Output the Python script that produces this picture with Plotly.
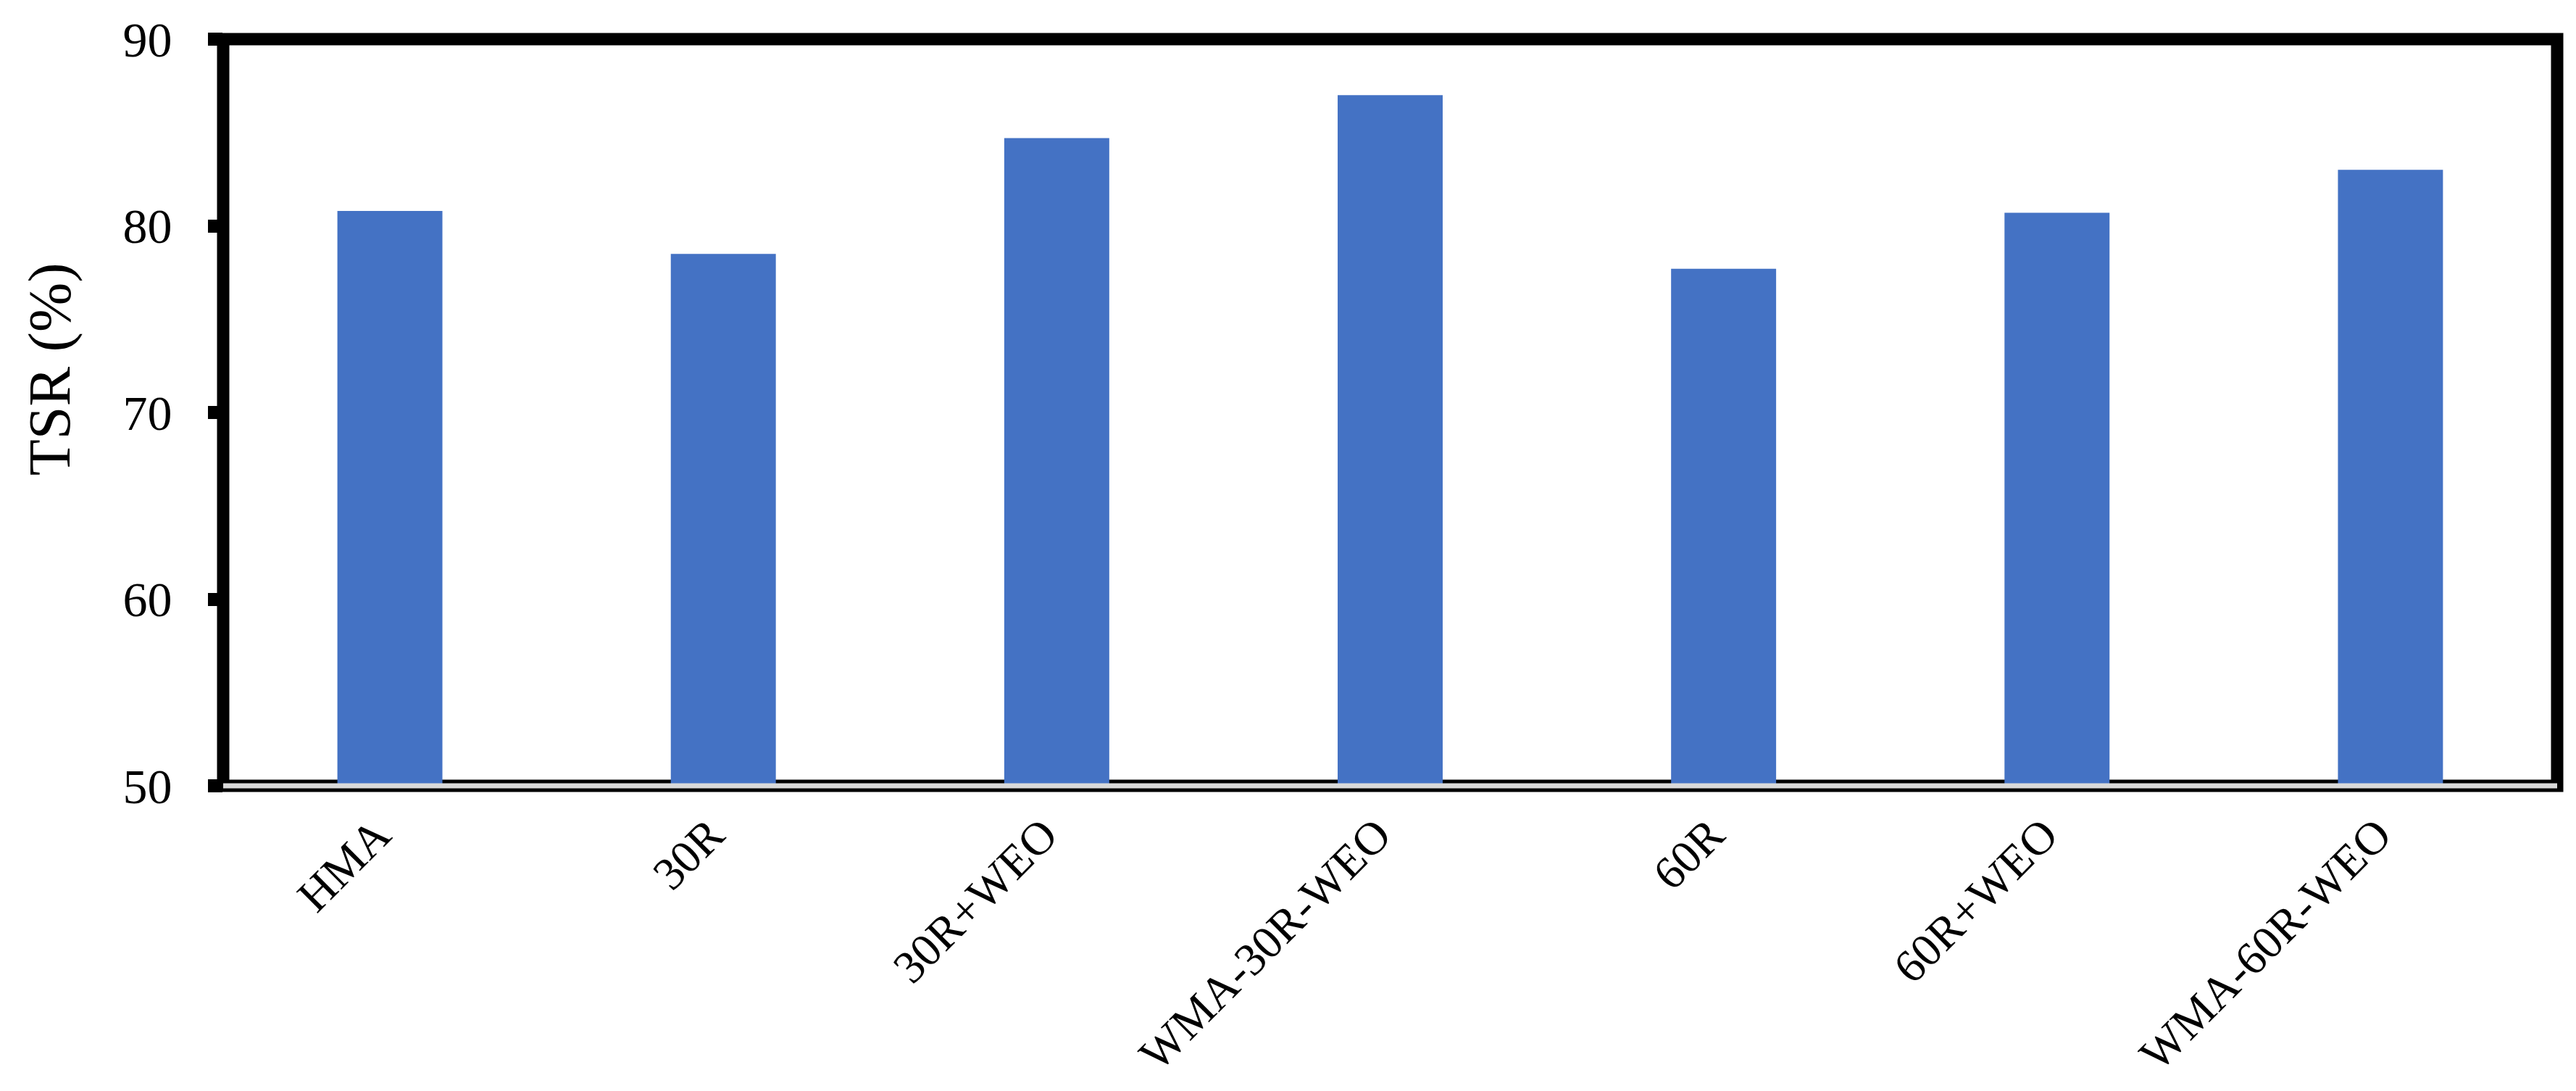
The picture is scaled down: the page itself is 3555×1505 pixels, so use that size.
import plotly.graph_objects as go

categories = ["HMA", "30R", "30R+WEO", "WMA-30R-WEO", "60R", "60R+WEO", "WMA-60R-WEO"]
tsr_values = [80.8, 78.5, 84.7, 87.0, 77.7, 80.7, 83.0]
y_ticks = [50, 60, 70, 80, 90]

FONT = "Liberation Serif"
BAR_COLOR = "#4472C4"

fig = go.Figure(
    go.Bar(x=categories, y=tsr_values, marker={"color": BAR_COLOR, "line": {"width": 0}})
)

fig.update_layout(
    width=3555,
    height=1505,
    paper_bgcolor="#ffffff",
    plot_bgcolor="rgba(0,0,0,0)",
    margin={"l": 300, "r": 34, "t": 46, "b": 429, "autoexpand": False},
    bargap=0.685,
    showlegend=False,
    font={"family": FONT, "color": "#000000", "size": 68},
    xaxis={
        "showgrid": False,
        "showline": False,
        "zeroline": False,
        "ticks": "",
        "tickangle": -45,
        "tickfont": {"family": FONT, "size": 64, "color": "#000000"},
        "ticklabelstandoff": 16,
        "ticklabelshift": -18,
    },
    yaxis={
        "range": [50, 90],
        "tickvals": y_ticks,
        "showgrid": False,
        "showline": False,
        "zeroline": False,
        "ticks": "outside",
        "ticklen": 20,
        "tickwidth": 18,
        "tickcolor": "#000000",
        "tickfont": {"family": FONT, "size": 68, "color": "#000000"},
        "ticklabelstandoff": 36,
    },
)

# heavy black frame round the plot area
fig.add_shape(
    type="rect", xref="paper", yref="paper", x0=0, x1=1, y0=0, y1=1,
    line={"color": "#000000", "width": 17}, layer="below",
)
# light grey category axis line
fig.add_shape(
    type="line", xref="paper", yref="paper", x0=0, x1=1, y0=0, y1=0,
    line={"color": "#d9d9d9", "width": 7}, layer="above",
)

fig.add_annotation(
    text="TSR (%)",
    xref="paper", yref="paper",
    x=-0.0745, y=0.558,
    xanchor="center", yanchor="middle",
    textangle=-90,
    showarrow=False,
    font={"family": FONT, "size": 82, "color": "#000000"},
)

fig.write_html("out.html")
